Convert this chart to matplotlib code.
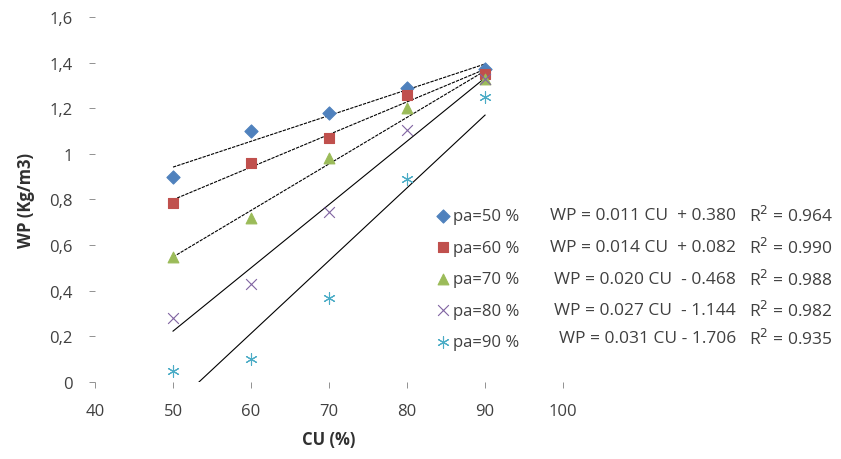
import numpy as np
import matplotlib
matplotlib.use('Agg')
import matplotlib.pyplot as plt
from matplotlib.ticker import FuncFormatter

plt.rcParams['font.family'] = ['Open Sans', 'DejaVu Sans']

# Datos
cu = [50, 60, 70, 80, 90]
wp_50 = [0.90, 1.10, 1.18, 1.29, 1.37]
wp_60 = [0.785, 0.96, 1.07, 1.26, 1.35]
wp_70 = [0.55, 0.72, 0.98, 1.20, 1.33]
wp_80 = [0.28, 0.43, 0.745, 1.105, 1.33]
wp_90 = [0.05, 0.10, 0.37, 0.89, 1.25]

labels = ['pa=50 %', 'pa=60 %', 'pa=70 %', 'pa=80 %', 'pa=90 %']
equations = ['WP = 0.011 CU  + 0.380', 'WP = 0.014 CU  + 0.082',
             'WP = 0.020 CU  - 0.468', 'WP = 0.027 CU  - 1.144',
             'WP = 0.031 CU - 1.706']
r2 = ['0.964', '0.990', '0.988', '0.982', '0.935']

series = [wp_50, wp_60, wp_70, wp_80, wp_90]
colors = ['#4F81BD', '#C0504D', '#9BBB59', '#8064A2', '#4BACC6']
markers = ['D', 's', '^', 'x', (6, 2, 0)]
sizes = [45, 50, 60, 60, 70]
styles = ['--', '--', '--', '-', '-']

fig = plt.figure(figsize=(8.41, 4.60), dpi=100)
ax = fig.add_axes([0.113, 0.1674, 0.5565, 0.7935])

handles = []
for y, c, m, s, ls in zip(series, colors, markers, sizes, styles):
    h = ax.scatter(cu, y, color=c, marker=m, s=s, linewidths=0.8,
                   clip_on=False, zorder=3)
    handles.append(h)
    # linea de tendencia (regresion lineal)
    k, b = np.polyfit(cu, y, 1)
    xs = np.array([cu[0], cu[-1]])
    ax.plot(xs, k * xs + b, color='black', ls=ls, lw=0.8,
            dashes=(3, 1) if ls == '--' else (None, None), zorder=2)

ax.set_xlim(40, 100)
ax.set_ylim(0, 1.6)
ax.set_xticks(range(40, 101, 10))
ax.set_yticks(np.arange(0, 1.61, 0.2))
ax.yaxis.set_major_formatter(FuncFormatter(
    lambda v, p: ('%g' % round(v, 1)).replace('.', ',')))
for sp in ax.spines.values():
    sp.set_visible(False)
ax.tick_params(axis='y', length=4, width=0.6, color='#808080', pad=12,
               labelsize=12, labelcolor='#404040')
ax.tick_params(axis='x', direction='out', length=4, width=0.6, color='#808080',
               pad=11, labelsize=12, labelcolor='#404040')
ax.set_xlabel('CU (%)', fontsize=12, fontweight='bold', color='#303030', labelpad=8)
ax.set_ylabel('WP (Kg/m3)', fontsize=12, fontweight='bold', color='#303030', labelpad=10)

fig.legend(handles, labels, loc='upper left', bbox_to_anchor=(0.499, 0.578),
           frameon=False, fontsize=12, labelspacing=0.93, handletextpad=0.1,
           handlelength=1.0, labelcolor='#404040')

row_y = [216, 248, 280, 311, 339]
for yy, eq, r in zip(row_y, equations, r2):
    fig.text(736 / 841, 1 - yy / 460, eq, ha='right', va='center',
             fontsize=12.5, color='#404040')
    fig.text(749 / 841, 1 - yy / 460, 'R$^2$ = ' + r, ha='left', va='center',
             fontsize=12.5, color='#404040')

fig.savefig('out.png', dpi=100)
